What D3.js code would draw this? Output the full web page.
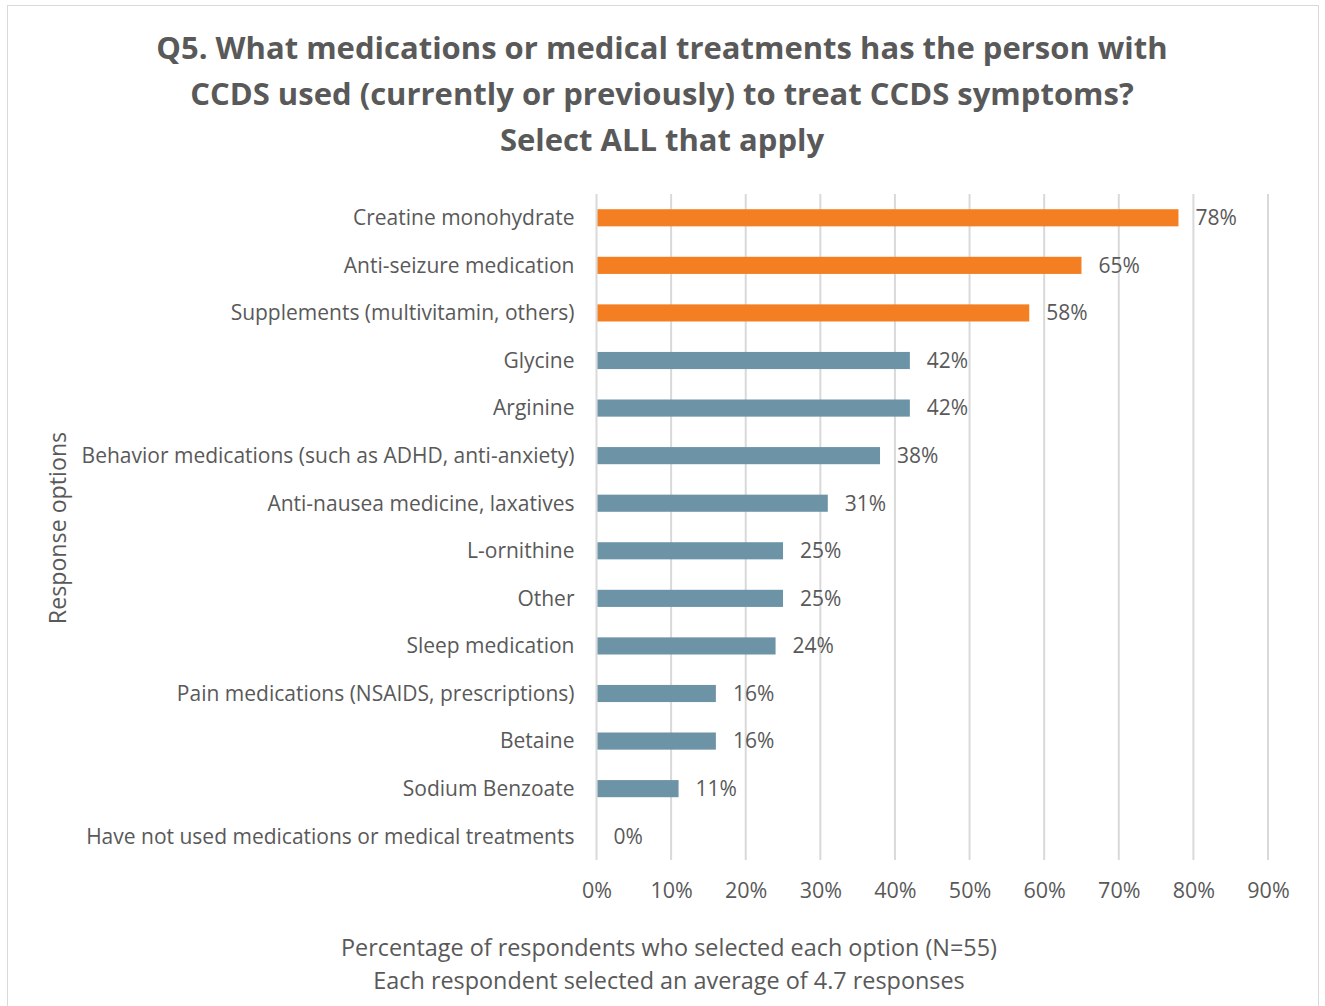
<!DOCTYPE html>
<html>
<head>
<meta charset="utf-8">
<script src="https://cdn.jsdelivr.net/npm/d3@7"></script>
<style>
  html, body { margin: 0; padding: 0; background: #fff; }
  svg text { font-family: "Open Sans", Lato, sans-serif; fill: #595959; }
</style>
</head>
<body>
<svg id="chart" width="1325" height="1006"></svg>
<script>
// Survey responses: share of respondents selecting each option
const categories = [
  "Creatine monohydrate",
  "Anti-seizure medication",
  "Supplements (multivitamin, others)",
  "Glycine",
  "Arginine",
  "Behavior medications (such as ADHD, anti-anxiety)",
  "Anti-nausea medicine, laxatives",
  "L-ornithine",
  "Other",
  "Sleep medication",
  "Pain medications (NSAIDS, prescriptions)",
  "Betaine",
  "Sodium Benzoate",
  "Have not used medications or medical treatments"
];
const percents = [78, 65, 58, 42, 42, 38, 31, 25, 25, 24, 16, 16, 11, 0];
const highlighted = [true, true, true, false, false, false, false, false, false, false, false, false, false, false];
const tickValues = [0, 10, 20, 30, 40, 50, 60, 70, 80, 90];
const titleLines = [
  "Q5. What medications or medical treatments has the person with",
  "CCDS used (currently or previously) to treat CCDS symptoms?",
  "Select ALL that apply"
];
const xTitleLines = [
  "Percentage of respondents who selected each option (N=55)",
  "Each respondent selected an average of 4.7 responses"
];
const yTitle = "Response options";

const svg = d3.select("#chart");
const plot = { left: 596.5, right: 1268, top: 194, bottom: 860 };
const FONT = "'Open Sans', Lato, sans-serif";

// outer frame
svg.append("rect")
  .attr("x", 7.5).attr("y", 5.5)
  .attr("width", 1311).attr("height", 1010)
  .attr("fill", "#fff").attr("stroke", "#d9d9d9").attr("stroke-width", 1);

const x = d3.scaleLinear().domain([0, 90]).range([plot.left, plot.right]);
const y = d3.scaleBand().domain(categories).range([plot.top, plot.bottom]).paddingInner(0.64).paddingOuter(0.32);

// vertical gridlines
svg.append("g")
  .selectAll("line")
  .data(tickValues)
  .join("line")
  .attr("x1", d => x(d)).attr("x2", d => x(d))
  .attr("y1", plot.top).attr("y2", plot.bottom)
  .attr("stroke", "#d9d9d9").attr("stroke-width", 2);

// x axis tick labels
const xAxis = d3.axisBottom(x).tickValues(tickValues).tickFormat(d => d + "%").tickSize(0).tickPadding(0);
const gx = svg.append("g").attr("transform", `translate(0,${plot.bottom})`).call(xAxis);
gx.select(".domain").remove();
gx.selectAll("text")
  .attr("dy", null).attr("y", 38)
  .style("font-size", "21.5px").style("font-family", FONT).attr("fill", "#595959");

// category labels
const yAxis = d3.axisLeft(y).tickSize(0).tickPadding(0);
const gy = svg.append("g").attr("transform", `translate(${plot.left - 22},0)`).call(yAxis);
gy.select(".domain").remove();
gy.selectAll("text")
  .attr("dy", "0.35em")
  .style("font-size", "21px").style("font-family", FONT).attr("fill", "#595959");

// bars
const rows = categories.map((c, i) => ({ c, v: percents[i], hi: highlighted[i] }));
svg.append("g")
  .selectAll("rect")
  .data(rows)
  .join("rect")
  .attr("x", x(0) + 1)
  .attr("y", d => y(d.c))
  .attr("width", d => Math.max(0, x(d.v) - x(0) - 1))
  .attr("height", y.bandwidth())
  .attr("fill", d => d.hi ? "#f47f22" : "#6c93a6");

// value labels
svg.append("g")
  .selectAll("text")
  .data(rows)
  .join("text")
  .attr("x", d => x(d.v) + 17)
  .attr("y", d => y(d.c) + y.bandwidth() / 2)
  .attr("dy", "0.35em")
  .style("font-size", "21px")
  .text(d => d.v + "%");

// chart title
svg.append("g")
  .selectAll("text")
  .data(titleLines)
  .join("text")
  .attr("x", 662).attr("y", (d, i) => 59 + i * 46)
  .attr("text-anchor", "middle")
  .style("font-size", "31px").style("font-weight", "bold")
  .text(d => d);

// x axis title
svg.append("g")
  .selectAll("text")
  .data(xTitleLines)
  .join("text")
  .attr("x", 669).attr("y", (d, i) => 956 + i * 33)
  .attr("text-anchor", "middle")
  .style("font-size", "23.4px")
  .text(d => d);

// y axis title
svg.append("text")
  .attr("transform", "translate(66,528) rotate(-90)")
  .attr("text-anchor", "middle")
  .style("font-size", "23.2px")
  .text(yTitle);
</script>
</body>
</html>
